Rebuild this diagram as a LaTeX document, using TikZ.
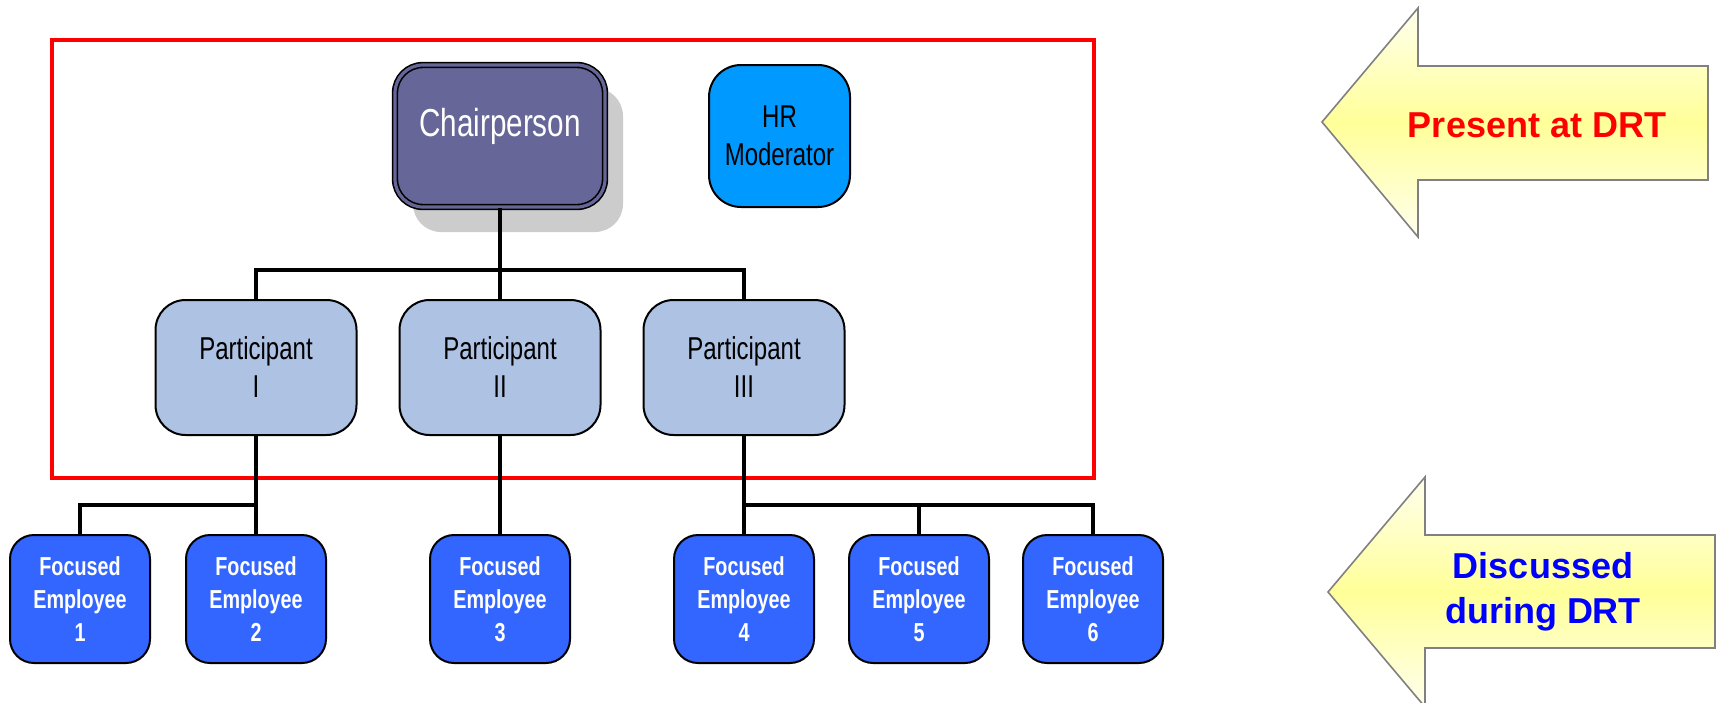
\documentclass[tikz,border=0pt]{standalone}
\usepackage{fontspec}
\setmainfont{Liberation Sans}
\newfontfamily\narrowfont[FakeStretch=0.76]{Liberation Sans}
\definecolor{chairc}{HTML}{666699}
\definecolor{hrc}{HTML}{0099FF}
\definecolor{partc}{HTML}{AEC2E3}
\definecolor{fec}{HTML}{3366FF}
\definecolor{shadowc}{HTML}{CCCCCC}
\definecolor{arrowy}{HTML}{FFFF99}
\definecolor{arrowlight}{HTML}{FFFFEE}
\definecolor{arrowedge}{HTML}{808080}
\begin{document}
\begin{tikzpicture}[x=0.5pt,y=-0.5pt,
  box/.style={draw=black, line width=1pt, align=center, inner sep=0pt},
  chairbox/.style={box, fill=chairc, text=white, rounded corners=14pt,
    minimum width=105pt, minimum height=71pt, double=chairc, double distance=1.6pt, line width=0.8pt,
    font={\narrowfont\fontsize{19.5}{22}\selectfont}, text height=10pt, text depth=10pt},
  shadowbox/.style={fill=shadowc, rounded corners=14pt, minimum width=105pt, minimum height=72pt, inner sep=0pt},
  hrbox/.style={box, fill=hrc, rounded corners=16pt, minimum width=70.5pt, minimum height=71pt,
    font={\narrowfont\fontsize{15.8}{19}\selectfont}},
  partbox/.style={box, fill=partc, rounded corners=15pt, minimum width=100.5pt, minimum height=67.5pt,
    font={\narrowfont\fontsize{15.8}{19}\selectfont}},
  febox/.style={box, fill=fec, text=white, rounded corners=12pt, minimum width=70pt, minimum height=64pt,
    font={\narrowfont\bfseries\fontsize{13}{16.5}\selectfont}},
  conn/.style={draw=black, line width=2pt},
  bigarrow/.style={draw=arrowedge, line width=0.8pt, top color=arrowlight, bottom color=arrowlight, middle color=arrowy},
  arrowtext/.style={align=center, font={\bfseries\fontsize{18}{22.5}\selectfont}}
]
\clip (0,0) rectangle (1719,702);
\fill[white] (0,0) rectangle (1719,702);

% red frame
\draw[red, line width=2pt] (51.5,39.5) rectangle (1094,478);

% chair shadow and boxes
\node[shadowbox] (chairshadow) at (518,160) {};
\node[chairbox] (chair) at (500,136) {Chairperson};
\node[hrbox] (hr) at (779.5,136) {HR\\Moderator};

\node[partbox] (p1) at (256,367.5) {Participant\\I};
\node[partbox] (p2) at (500,367.5) {Participant\\II};
\node[partbox] (p3) at (744,367.5) {Participant\\III};

\node[febox] (f1) at (80,599) {Focused\\Employee\\1};
\node[febox] (f2) at (256,599) {Focused\\Employee\\2};
\node[febox] (f3) at (500,599) {Focused\\Employee\\3};
\node[febox] (f4) at (744,599) {Focused\\Employee\\4};
\node[febox] (f5) at (919,599) {Focused\\Employee\\5};
\node[febox] (f6) at (1093,599) {Focused\\Employee\\6};

% connectors
\coordinate (j1) at (500,270);
\coordinate (j2) at (256,505);
\coordinate (j3) at (744,505);
\draw[conn] (chair.south) -- (j1);
\draw[conn] (p1.north) -- (p1.north |- j1) -- (p3.north |- j1) -- (p3.north);
\draw[conn] (j1) -- (p2.north);
\draw[conn] (p1.south) -- (f2.north);
\draw[conn] (j2) -| (f1.north);
\draw[conn] (p2.south) -- (f3.north);
\draw[conn] (p3.south) -- (f4.north);
\draw[conn] (j3) -| (f6.north);
\draw[conn] (f5.north) -- (f5.north |- j3);

% big arrows
\shadedraw[bigarrow] (1322,122) -- (1418,8) -- (1418,66) -- (1708,66) -- (1708,180) -- (1418,180) -- (1418,237) -- cycle;
\node[arrowtext, text=red] (present) at (1537,125) {Present at DRT};
\shadedraw[bigarrow] (1328,592) -- (1425,477) -- (1425,535) -- (1715,535) -- (1715,648) -- (1425,648) -- (1425,707) -- cycle;
\node[arrowtext, text=blue] (discussed) at (1543,592) {Discussed\\during DRT};
\end{tikzpicture}
\end{document}
